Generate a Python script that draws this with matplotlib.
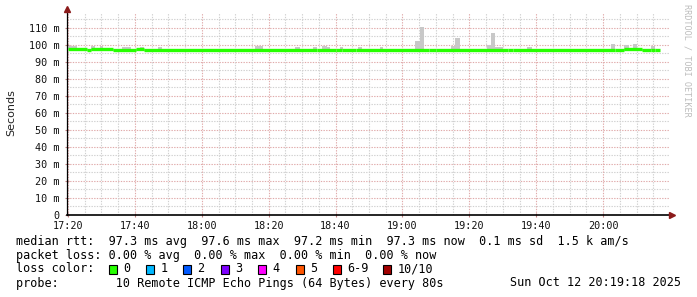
import matplotlib
matplotlib.use("Agg")
import matplotlib.pyplot as plt
from matplotlib.patches import Rectangle

# ---- data (minutes since 17:20) ----
median_start = [0, 5.7, 7.0, 13.6, 20.2, 22.7, 74.5, 80, 82, 86, 108, 110, 131.6, 133, 163.6, 166.3, 171.5, 174.3, 175.5]
median_end   = [5.7, 7.0, 13.6, 20.2, 22.7, 74.5, 80, 82, 86, 108, 110, 131.6, 133, 163.6, 166.3, 171.5, 174.3, 175.5, 177.0]
median_ms    = [97.5, 97.0, 97.4, 97.1, 97.4, 97.2, 97.0, 97.3, 97.0, 97.3, 97.0, 97.3, 97.0, 97.3, 97.0, 97.4, 97.0, 97.3, 97.0]

smoke_start = [0.0, 6.9, 9.6, 16.1, 21.5, 26.9, 55.9, 67.9, 73.3, 76.0, 77.5, 81.3, 86.7, 93.3,
               103.8, 105.3, 114.5, 115.7, 125.3, 126.5, 127.7, 137.3, 162.4, 166.3, 169.0, 174.3]
smoke_end   = [2.7, 8.1, 10.5, 18.8, 22.7, 28.1, 58.3, 69.4, 74.5, 77.5, 78.4, 82.2, 87.9, 94.2,
               105.3, 106.5, 115.7, 117.2, 126.5, 127.7, 130.1, 138.8, 163.6, 167.8, 170.2, 175.5]
smoke_top   = [99.2, 99.4, 99.2, 99.0, 98.8, 98.6, 99.2, 98.6, 98.6, 99.6, 98.8, 98.8, 98.6, 98.6,
               102.4, 110.4, 99.4, 104.3, 100.2, 107.2, 99.0, 98.8, 100.4, 99.8, 100.4, 99.4]

xtick_pos = [0, 20, 40, 60, 80, 100, 120, 140, 160]
xtick_labels = ["17:20", "17:40", "18:00", "18:20", "18:40", "19:00", "19:20", "19:40", "20:00"]
ytick_pos = [0, 10, 20, 30, 40, 50, 60, 70, 80, 90, 100, 110]
ytick_labels = ["0", "10 m", "20 m", "30 m", "40 m", "50 m", "60 m", "70 m", "80 m", "90 m", "100 m", "110 m"]

loss_labels = ["0", "1", "2", "3", "4", "5", "6-9", "10/10"]
loss_colors = ["#26ff00", "#00b8ff", "#0059ff", "#7e00ff", "#ff00ff", "#ff5500", "#ff0000", "#a10000"]

W, H = 697, 297
fig = plt.figure(figsize=(W / 100, H / 100), dpi=100)
fig.patch.set_facecolor("white")

ax_l, ax_r, ax_b, ax_t = 67, 669, 215, 13
ax = fig.add_axes([ax_l / W, (H - ax_b) / H, (ax_r - ax_l) / W, (ax_b - ax_t) / H])
ax.set_facecolor("white")
xmin, xmax = -0.3, 179.7
ymin, ymax = 0, 118.8
ax.set_xlim(xmin, xmax)
ax.set_ylim(ymin, ymax)

mono = "DejaVu Sans Mono"

# grid
dash = (0, (1.2, 1.2))
for v in range(5, 120, 10):
    ax.axhline(v, color="#d0d0d0", lw=0.8, ls=dash, zorder=0)
for v in range(10, 120, 10):
    ax.axhline(v, color="#e0aaaa", lw=0.8, ls=dash, zorder=0)
for m in range(0, 180, 5):
    if m % 20 == 0:
        continue
    ax.axvline(m, color="#d0d0d0", lw=0.8, ls=dash, zorder=0)
for m in xtick_pos:
    ax.axvline(m, color="#e0aaaa", lw=0.8, ls=dash, zorder=0)

# smoke
for s, e, t in zip(smoke_start, smoke_end, smoke_top):
    ax.bar(s, t - 96.8, bottom=96.8, width=e - s, align="edge", color="#c8c8c8", lw=0, zorder=2)

# median
for s, e, v in zip(median_start, median_end, median_ms):
    ax.hlines(v, s, e, color="#26ff00", lw=2.4, zorder=3)
for i in range(len(median_start) - 1):
    ax.vlines(median_end[i], min(median_ms[i], median_ms[i + 1]), max(median_ms[i], median_ms[i + 1]),
              color="#26ff00", lw=2.4, zorder=3)

# spines / axes
for sp in ["top", "right"]:
    ax.spines[sp].set_visible(False)
ax.spines["left"].set_color("black")
ax.spines["bottom"].set_color("black")
ax.spines["left"].set_linewidth(0.9)
ax.spines["bottom"].set_linewidth(1.2)
ax.spines["left"].set_bounds(0, ymax + 1.5)
ax.spines["bottom"].set_bounds(xmin, xmax + 0.5)
ax.plot([xmax + 1.0], [0], marker=">", color="#8b1a1a", ms=4, clip_on=False, zorder=5)
ax.plot([xmin], [ymax + 2.5], marker="^", color="#8b1a1a", ms=4, clip_on=False, zorder=5)

ax.set_xticks(xtick_pos)
ax.set_xticklabels(xtick_labels, fontfamily=mono, fontsize=7.3, color="#111111")
ax.set_yticks(ytick_pos)
ax.set_yticklabels(ytick_labels, fontfamily=mono, fontsize=7.3, color="#111111")
ax.tick_params(axis="both", length=2.5, width=0.8, color="#c08080", direction="inout", pad=4)
ax.tick_params(axis="x", pad=3)

fig.text(11 / W, 1 - 113 / H, "Seconds", rotation=90, ha="center", va="center",
         fontsize=8, fontfamily="DejaVu Sans", color="#222222")
fig.text(687 / W, 1 - 4 / H, "RRDTOOL / TOBI OETIKER", rotation=270, ha="center", va="top",
         fontsize=6.1, fontfamily=mono, color="#bdbdbd")

# legend text
fs = 8.5
rows = [241, 255, 269, 283]
fig.text(16 / W, 1 - rows[0] / H,
         "median rtt:  97.3 ms avg  97.6 ms max  97.2 ms min  97.3 ms now  0.1 ms sd  1.5 k am/s",
         fontfamily=mono, fontsize=fs, va="center", ha="left", color="black")
fig.text(16 / W, 1 - rows[1] / H,
         "packet loss: 0.00 % avg  0.00 % max  0.00 % min  0.00 % now",
         fontfamily=mono, fontsize=fs, va="center", ha="left", color="black")
fig.text(16 / W, 1 - rows[2] / H, "loss color:", fontfamily=mono, fontsize=fs, va="center", ha="left")
box_x = [108.5, 146, 183, 220.5, 258, 295.5, 332.5, 383]
for bx, lab, col in zip(box_x, loss_labels, loss_colors):
    fig.patches.append(Rectangle((bx / W, 1 - (rows[2] + 4.5) / H), 8 / W, 9 / H,
                                 transform=fig.transFigure, facecolor=col, edgecolor="black", lw=0.8))
    fig.text((bx + 14.5) / W, 1 - rows[2] / H, lab, fontfamily=mono, fontsize=fs, va="center", ha="left")
fig.text(16 / W, 1 - rows[3] / H,
         "probe:        10 Remote ICMP Echo Pings (64 Bytes) every 80s",
         fontfamily=mono, fontsize=fs, va="center", ha="left")
fig.text(681 / W, 1 - rows[3] / H, "Sun Oct 12 20:19:18 2025",
         fontfamily=mono, fontsize=fs, va="center", ha="right")

fig.savefig("out.png", dpi=100, facecolor="white")
